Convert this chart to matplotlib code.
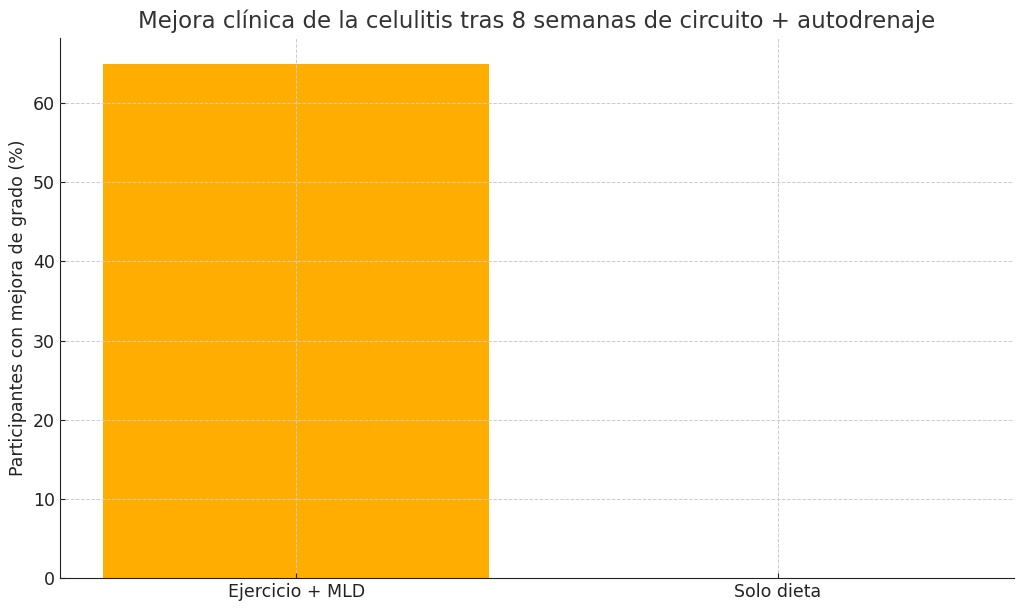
import matplotlib.pyplot as plt

# datos
grupos = ["Ejercicio + MLD", "Solo dieta"]
mejora_pct = [65, 0]

fig = plt.figure(figsize=(10.24, 6.11), dpi=100)
ax = fig.add_axes([0.0586, 0.054, 0.9316, 0.884])

ax.bar(grupos, mejora_pct, width=0.8, color="#ffae00")
ax.set_ylim(0, 68.25)

ax.set_title("Mejora clínica de la celulitis tras 8 semanas de circuito + autodrenaje",
             fontsize=16.5, color="#333333", pad=7)
ax.set_ylabel("Participantes con mejora de grado (%)", fontsize=12.5,
              color="#222222")
ax.tick_params(labelsize=12.5, colors="#222222", direction="in")

ax.grid(True, linestyle="--", linewidth=0.7, color="#cccccc")
ax.set_axisbelow(False)
for s in ["top", "right"]:
    ax.spines[s].set_visible(False)
for s in ["left", "bottom"]:
    ax.spines[s].set_color("#222222")

fig.savefig("out.png", dpi=100)
